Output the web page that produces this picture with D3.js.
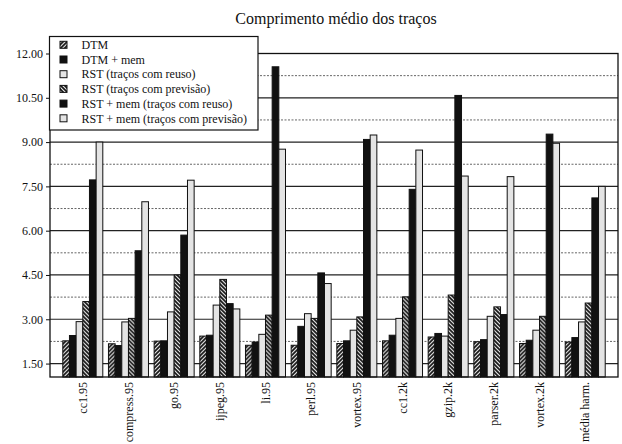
<!DOCTYPE html>
<html>
<head>
<meta charset="utf-8">
<script src="https://cdn.jsdelivr.net/npm/d3@7"></script>
<style>
  html, body { margin: 0; padding: 0; background: #fff; }
  svg { display: block; }
</style>
</head>
<body>
<svg id="chart" width="622" height="444"></svg>
<script>
// Benchmarks on the horizontal axis
const categories = ["cc1.95", "compress.95", "go.95", "ijpeg.95", "li.95", "perl.95",
                    "vortex.95", "cc1.2k", "gzip.2k", "parser.2k", "vortex.2k", "média harm."];

// Series names, in legend order
const seriesNames = ["DTM", "DTM + mem", "RST (traços com reuso)", "RST (traços com previsão)",
                     "RST + mem (traços com reuso)", "RST + mem (traços com previsão)"];

// Average trace length per benchmark, one array per series
const dtm         = [2.27, 2.17, 2.26, 2.43, 2.12, 2.12, 2.18, 2.27, 2.40, 2.24, 2.18, 2.23];
const dtmMem      = [2.45, 2.11, 2.27, 2.46, 2.23, 2.76, 2.27, 2.46, 2.52, 2.31, 2.29, 2.38];
const rstReuso    = [2.92, 2.91, 3.25, 3.48, 2.49, 3.19, 2.63, 3.03, 2.43, 3.10, 2.63, 2.91];
const rstPrev     = [3.60, 3.03, 4.50, 4.35, 3.14, 3.03, 3.08, 3.76, 3.82, 3.42, 3.10, 3.55];
const rstMemReuso = [7.72, 5.32, 5.85, 3.53, 11.55, 4.57, 9.09, 7.40, 10.58, 3.16, 9.27, 7.11];
const rstMemPrev  = [9.00, 6.98, 7.71, 3.35, 8.76, 4.21, 9.24, 8.73, 7.85, 7.83, 8.96, 7.50];

// Y axis tick values (labelled) and the dotted half-step lines between them
const yTicks = [1.5, 3.0, 4.5, 6.0, 7.5, 9.0, 10.5, 12.0];
const yMinorTicks = [2.25, 3.75, 5.25, 6.75, 8.25, 9.75, 11.25];

const title = "Comprimento médio dos traços";

const seriesValues = [dtm, dtmMem, rstReuso, rstPrev, rstMemReuso, rstMemPrev];
const seriesFill = ["url(#hatchFwd)", "#111", "#e4e4e4", "url(#hatchBack)", "#111", "#e4e4e4"];

const FONT = "'Liberation Serif', 'Times New Roman', Times, 'DejaVu Serif', serif";

const svg = d3.select("#chart");
const plot = { left: 50, right: 618, top: 53.5, bottom: 377 };

// Hatch patterns for the DTM and "previsão" series
const defs = svg.append("defs");
function hatch(id, d) {
  const p = defs.append("pattern")
    .attr("id", id).attr("patternUnits", "userSpaceOnUse")
    .attr("width", 4).attr("height", 4);
  p.append("rect").attr("width", 4).attr("height", 4).attr("fill", "#fff");
  p.append("path").attr("d", d).attr("stroke", "#111").attr("stroke-width", 1.8);
}
hatch("hatchFwd", "M-1,1 L1,-1 M0,4 L4,0 M3,5 L5,3");
hatch("hatchBack", "M-1,3 L1,5 M0,0 L4,4 M3,-1 L5,1");

const x0 = d3.scaleBand().domain(categories)
  .range([plot.left, plot.right]).paddingInner(0.124).paddingOuter(0.28);
const x1 = d3.scaleBand().domain(d3.range(seriesNames.length))
  .range([0, x0.bandwidth()]).padding(0);
const y = d3.scaleLinear().domain([1.045, 12]).range([plot.bottom, plot.top]);

// Title
svg.append("text")
  .attr("x", 336).attr("y", 24)
  .attr("text-anchor", "middle")
  .attr("font-family", FONT)
  .attr("font-size", 16)
  .attr("fill", "#111")
  .text(title);

// Grid: solid lines at labelled ticks, dotted lines halfway between
svg.append("g").selectAll("line").data(yMinorTicks).join("line")
  .attr("x1", plot.left).attr("x2", plot.right)
  .attr("y1", d => y(d)).attr("y2", d => y(d))
  .attr("stroke", "#666").attr("stroke-width", 1)
  .attr("stroke-dasharray", "2,1.5");
svg.append("g").selectAll("line").data(yTicks).join("line")
  .attr("x1", plot.left).attr("x2", plot.right)
  .attr("y1", d => y(d)).attr("y2", d => y(d))
  .attr("stroke", "#222").attr("stroke-width", 1.2);

// Bars
const groups = svg.append("g").selectAll("g").data(categories).join("g")
  .attr("transform", c => `translate(${x0(c)},0)`);
groups.selectAll("rect")
  .data((c, ci) => seriesValues.map((vals, si) => ({ si, v: vals[ci] })))
  .join("rect")
  .attr("x", d => x1(d.si))
  .attr("width", x1.bandwidth())
  .attr("y", d => y(d.v))
  .attr("height", d => plot.bottom - y(d.v))
  .attr("fill", d => seriesFill[d.si])
  .attr("stroke", "#111").attr("stroke-width", 1);

// Frame
svg.append("rect")
  .attr("x", plot.left).attr("y", plot.top)
  .attr("width", plot.right - plot.left).attr("height", plot.bottom - plot.top)
  .attr("fill", "none").attr("stroke", "#111").attr("stroke-width", 1.3);

// Y axis
const yAxis = svg.append("g")
  .attr("transform", `translate(${plot.left},0)`)
  .call(d3.axisLeft(y).tickValues(yTicks).tickFormat(d3.format(".2f"))
        .tickSize(4).tickPadding(3));
yAxis.attr("font-family", FONT).attr("font-size", 12);
yAxis.select(".domain").remove();
yAxis.selectAll("text").attr("fill", "#111");
yAxis.selectAll("line").attr("stroke", "#111");

// X axis labels, rotated
const xAxis = svg.append("g")
  .attr("transform", `translate(0,${plot.bottom})`)
  .call(d3.axisBottom(x0).tickSize(0).tickPadding(0));
xAxis.attr("font-family", FONT).attr("font-size", 12);
xAxis.select(".domain").remove();
xAxis.selectAll("text")
  .attr("fill", "#111")
  .attr("text-anchor", "end")
  .attr("transform", "translate(0,5) rotate(-90)")
  .attr("x", 0).attr("y", 0).attr("dy", "0.35em");

// Legend
const legend = svg.append("g").attr("font-family", FONT).attr("font-size", 12);
legend.append("rect")
  .attr("x", 49.5).attr("y", 36.5).attr("width", 208.5).attr("height", 93.5)
  .attr("fill", "#fff").attr("stroke", "#111").attr("stroke-width", 1.2);
const items = legend.selectAll("g").data(seriesNames).join("g")
  .attr("transform", (d, i) => `translate(60,${44.8 + i * 14.7})`);
items.append("rect")
  .attr("x", 0).attr("y", -3.5).attr("width", 7).attr("height", 7)
  .attr("fill", (d, i) => seriesFill[i])
  .attr("stroke", "#111").attr("stroke-width", 1);
items.append("text")
  .attr("x", 21.5).attr("y", 0).attr("dy", "0.35em")
  .attr("fill", "#111")
  .text(d => d);
</script>
</body>
</html>
